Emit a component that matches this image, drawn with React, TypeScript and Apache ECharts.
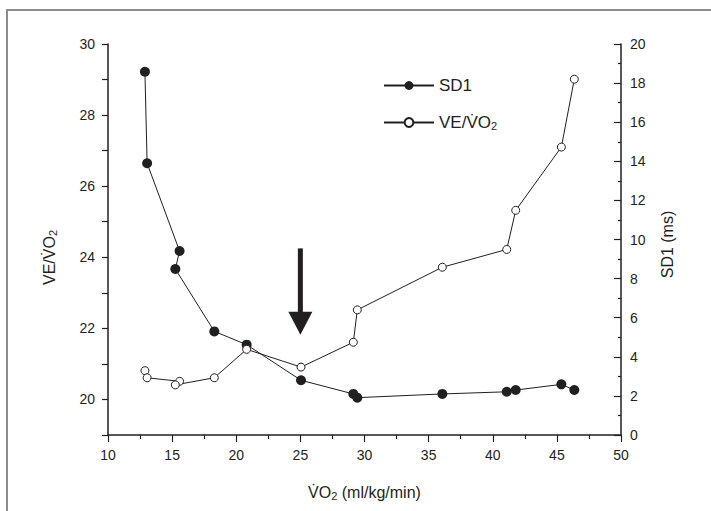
import React, { useEffect, useRef } from 'react';
import * as echarts from 'echarts';

// VO2 (ml/kg/min), in measurement order
const vo2 = [12.88, 13.05, 15.58, 15.25, 18.29, 20.81, 25.05, 29.13, 29.44, 36.07, 41.09, 41.79, 45.35, 46.36];
// SD1 (ms) – right axis
const sd1 = [18.58, 13.9, 9.41, 8.49, 5.3, 4.62, 2.8, 2.1, 1.91, 2.1, 2.21, 2.3, 2.59, 2.3];
// VE/VO2 – left axis
const veVo2 = [20.81, 20.61, 20.51, 20.41, 20.61, 21.41, 20.91, 21.61, 22.52, 23.72, 24.22, 25.32, 27.1, 29.01];

const leftLabelValues = [20, 22, 24, 26, 28, 30];
const legendNames = ['SD1', 'VE/VO2'];

// arrow annotation (x position and left-axis values)
const arrowX = 25;
const arrowTop = 24.25;
const arrowHeadBase = 22.47;
const arrowTip = 21.82;

const ink = '#231f20';
const font = '"Liberation Sans", Arial, Helvetica, sans-serif';
const subStyle = { fontSize: 11, fontFamily: font, color: ink, padding: [7, 0, 0, 0] };

export default function App() {
  const ref = useRef<HTMLDivElement>(null);
  useEffect(() => {
    if (!ref.current) return;
    const chart = echarts.init(ref.current, undefined, { renderer: 'svg' });
    chart.setOption({
      animation: false,
      textStyle: { fontFamily: font },
      grid: { left: 108, right: 90, top: 44, bottom: 76, containLabel: false },
      legend: {
        orient: 'vertical',
        left: 378,
        top: 72,
        itemWidth: 50,
        itemHeight: 11,
        itemGap: 20,
        data: legendNames,
        formatter: (n: string) => (n === 'VE/VO2' ? 'VE/V\u0307O{sub|2}' : n),
        textStyle: { fontSize: 17, color: ink, fontFamily: font, rich: { sub: subStyle } },
      },
      xAxis: {
        type: 'value',
        min: 10,
        max: 50,
        interval: 5,
        axisLine: { show: true, onZero: false, lineStyle: { color: ink, width: 1.5 } },
        axisTick: { show: true, length: 7, lineStyle: { color: ink, width: 1.2 } },
        minorTick: { show: true, splitNumber: 2, length: 4, lineStyle: { color: ink, width: 1.2 } },
        splitLine: { show: false },
        axisLabel: { fontSize: 14, color: ink, margin: 13, fontFamily: font },
        name: 'V\u0307O{sub|2} (ml/kg/min)',
        nameLocation: 'middle',
        nameGap: 48,
        nameTextStyle: { fontSize: 16, color: ink, fontFamily: font, rich: { sub: subStyle } },
      },
      yAxis: [
        {
          type: 'value',
          position: 'left',
          min: 19,
          max: 30,
          interval: 1,
          axisLine: { show: true, onZero: false, lineStyle: { color: ink, width: 1.5 } },
          axisTick: { show: true, length: 6, lineStyle: { color: ink, width: 1.2 } },
          splitLine: { show: false },
          axisLabel: {
            fontSize: 14,
            color: ink,
            margin: 13,
            fontFamily: font,
            formatter: (v: number) => (leftLabelValues.includes(v) ? String(v) : ''),
          },
          name: 'VE/V\u0307O{sub|2}',
          nameLocation: 'middle',
          nameRotate: 90,
          nameGap: 50,
          nameTextStyle: { fontSize: 16, color: ink, fontFamily: font, padding: [0, 36, 0, 0], rich: { sub: subStyle } },
        },
        {
          type: 'value',
          position: 'right',
          min: 0,
          max: 20,
          interval: 2,
          axisLine: { show: true, onZero: false, lineStyle: { color: ink, width: 1.5 } },
          axisTick: { show: true, inside: true, length: 7, lineStyle: { color: ink, width: 1.2 } },
          minorTick: { show: true, splitNumber: 2, length: 3, lineStyle: { color: ink, width: 1.2 } },
          splitLine: { show: false },
          axisLabel: { fontSize: 14, color: ink, margin: 9, fontFamily: font },
          name: 'SD1 (ms)',
          nameLocation: 'middle',
          nameRotate: 90,
          nameGap: 38,
          nameTextStyle: { fontSize: 16, color: ink, fontFamily: font, padding: [0, 10, 0, 0] },
        },
      ],
      series: [
        {
          name: 'SD1',
          type: 'line',
          yAxisIndex: 1,
          data: vo2.map((x, i) => [x, sd1[i]]),
          symbol: 'circle',
          symbolSize: 10,
          showAllSymbol: true,
          lineStyle: { color: ink, width: 1 },
          itemStyle: { color: ink, borderColor: ink, borderWidth: 0 },
          z: 2,
        },
        {
          name: 'VE/VO2',
          type: 'line',
          yAxisIndex: 0,
          data: vo2.map((x, i) => [x, veVo2[i]]),
          symbol: 'circle',
          symbolSize: 8,
          showAllSymbol: true,
          lineStyle: { color: ink, width: 1 },
          itemStyle: { color: '#ffffff', borderColor: ink, borderWidth: 1 },
          z: 3,
        },
      ],
    });

    const top = chart.convertToPixel({ xAxisIndex: 0, yAxisIndex: 0 }, [arrowX, arrowTop]) as number[];
    const base = chart.convertToPixel({ xAxisIndex: 0, yAxisIndex: 0 }, [arrowX, arrowHeadBase]) as number[];
    const tip = chart.convertToPixel({ xAxisIndex: 0, yAxisIndex: 0 }, [arrowX, arrowTip]) as number[];

    chart.setOption({
      graphic: [
        {
          type: 'polyline',
          shape: { points: [[7, 511], [7, 10], [711, 10]] },
          style: { stroke: '#8c8c8c', lineWidth: 2, fill: 'none' },
          silent: true,
        },
        {
          type: 'rect',
          shape: { x: top[0] - 2.5, y: top[1], width: 5, height: base[1] - top[1] + 1 },
          style: { fill: ink },
          silent: true,
        },
        {
          type: 'polygon',
          shape: { points: [[base[0] - 12, base[1]], [base[0] + 12, base[1]], [tip[0], tip[1]]] },
          style: { fill: ink },
          silent: true,
        },
      ],
    });

    return () => chart.dispose();
  }, []);
  return <div ref={ref} style={{ position: 'fixed', left: 0, top: 0, width: 711, height: 511, background: '#fff' }} />;
}
